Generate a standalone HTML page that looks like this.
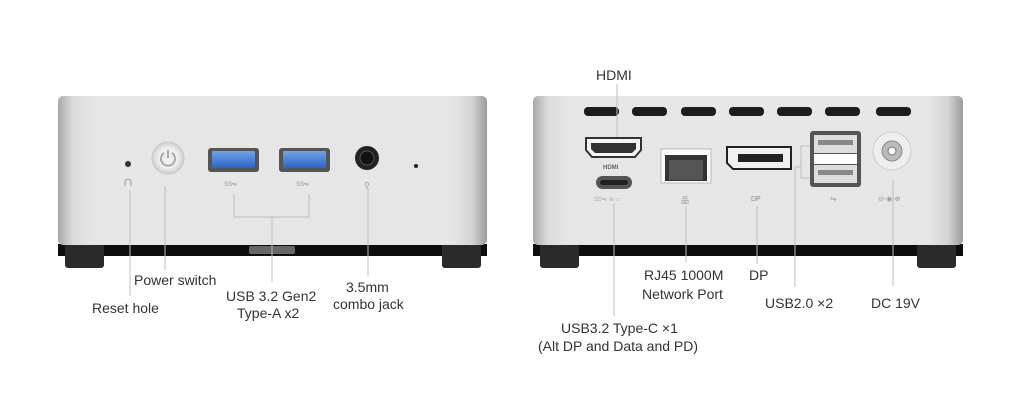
<!DOCTYPE html>
<html><head><meta charset="utf-8"><style>
html,body{margin:0;padding:0;background:#fff;}
svg{display:block}
text{font-family:"Liberation Sans",sans-serif;font-size:14px;fill:#333}
</style></head><body>
<svg width="1026" height="415" viewBox="0 0 1026 415" xmlns="http://www.w3.org/2000/svg">
<defs>
<linearGradient id="body" x1="0" x2="1" y1="0" y2="0">
<stop offset="0" stop-color="#a9a9ab"/><stop offset="0.035" stop-color="#dcdcdd"/><stop offset="0.08" stop-color="#e6e6e7"/>
<stop offset="0.92" stop-color="#e6e6e7"/><stop offset="0.965" stop-color="#d4d4d5"/><stop offset="1" stop-color="#9c9c9e"/>
</linearGradient>
<linearGradient id="usb3" x1="0" x2="0" y1="0" y2="1"><stop offset="0" stop-color="#6fa4e8"/><stop offset="1" stop-color="#2c64c4"/></linearGradient>
<radialGradient id="btn"><stop offset="0.6" stop-color="#eeeeee"/><stop offset="1" stop-color="#cfcfcf"/></radialGradient>
</defs>

<!-- LEFT DEVICE -->
<rect x="58" y="244" width="429" height="12" fill="#0d0d0d"/>
<rect x="65" y="244" width="39" height="24" rx="3" fill="#2a2a2a"/>
<rect x="442" y="244" width="39" height="24" rx="3" fill="#2a2a2a"/>
<rect x="249" y="246" width="46" height="8" rx="2" fill="#666"/>
<rect x="58" y="96" width="429" height="149" rx="5" fill="url(#body)"/>
<circle cx="128" cy="164" r="3" fill="#333"/>
<path d="M125 186 v-4 a3 3 0 0 1 6 0 v4" fill="none" stroke="#999" stroke-width="1"/>
<circle cx="168" cy="158" r="16" fill="url(#btn)" stroke="#c8c8c8"/>
<path d="M164 153 a7 7 0 1 0 8 0" fill="none" stroke="#aaa" stroke-width="2"/>
<line x1="168" y1="150" x2="168" y2="158" stroke="#aaa" stroke-width="2"/>
<rect x="208" y="148" width="51" height="24" rx="3" fill="#555"/>
<rect x="212" y="151" width="43" height="17" rx="1" fill="url(#usb3)"/>
<rect x="279" y="148" width="51" height="24" rx="3" fill="#555"/>
<rect x="283" y="151" width="43" height="17" rx="1" fill="url(#usb3)"/>
<text x="224" y="186" style="font-size:6px;fill:#999">SS⇋</text>
<text x="296" y="186" style="font-size:6px;fill:#999">SS⇋</text>
<circle cx="367" cy="158" r="12" fill="#222"/><circle cx="367" cy="158" r="7" fill="#111" stroke="#555"/>
<text x="364" y="188" style="font-size:8px;fill:#999">⚲</text>
<circle cx="416" cy="166" r="2" fill="#222"/>

<g stroke="#bdbdbd" stroke-width="1" fill="none">
<line x1="130" y1="190" x2="130" y2="296"/>
<line x1="165" y1="186" x2="165" y2="270"/>
<polyline points="234,194 234,217 309,217 309,194"/>
<line x1="272" y1="217" x2="272" y2="282"/>
<line x1="368" y1="188" x2="368" y2="276"/>
</g>

<!-- RIGHT DEVICE -->
<rect x="533" y="244" width="430" height="12" fill="#0d0d0d"/>
<rect x="540" y="244" width="39" height="24" rx="3" fill="#2a2a2a"/>
<rect x="917" y="244" width="39" height="24" rx="3" fill="#2a2a2a"/>
<rect x="533" y="96" width="430" height="149" rx="5" fill="url(#body)"/>
<g fill="#1c1c1c">
<rect x="584" y="107" width="35" height="9" rx="4"/>
<rect x="632" y="107" width="35" height="9" rx="4"/>
<rect x="681" y="107" width="35" height="9" rx="4"/>
<rect x="729" y="107" width="35" height="9" rx="4"/>
<rect x="777" y="107" width="35" height="9" rx="4"/>
<rect x="825" y="107" width="35" height="9" rx="4"/>
<rect x="876" y="107" width="35" height="9" rx="4"/>
</g>
<!-- HDMI -->
<path d="M586 138 h55 v12 l-6 7 h-43 l-6 -7 z" fill="#f4f4f4" stroke="#333" stroke-width="2"/>
<path d="M591 143 h45 v6 l-4 4 h-37 l-4 -4 z" fill="#333"/>
<text x="603" y="169" style="font-size:6px;fill:#666;font-weight:bold">HDMI</text>
<!-- USB-C -->
<rect x="596" y="176" width="36" height="13" rx="6.5" fill="#555"/>
<rect x="600" y="180" width="28" height="5" rx="2.5" fill="#222"/>
<text x="594" y="201" style="font-size:6px;fill:#aaa">SS⇋ ⊖ ▭</text>
<!-- RJ45 -->
<rect x="661" y="149" width="50" height="34" fill="#fafafa" stroke="#bbb"/>
<rect x="665" y="155" width="42" height="26" fill="#333"/>
<rect x="669" y="160" width="34" height="20" fill="#555"/>
<text x="681" y="203" style="font-size:8px;fill:#999">品</text>
<!-- DP -->
<path d="M727 147 h64 v22 h-58 l-6 -6 z" fill="#f0f0f0" stroke="#222" stroke-width="2"/>
<rect x="738" y="154" width="45" height="8" fill="#222"/>
<text x="751" y="201" style="font-size:7px;fill:#888">DP</text>
<!-- USB2 -->
<rect x="810" y="131" width="51" height="56" rx="3" fill="#555"/>
<rect x="814" y="135" width="43" height="18" fill="#ddd"/>
<rect x="814" y="154" width="43" height="10" fill="#fff"/>
<rect x="814" y="165" width="43" height="18" fill="#ddd"/>
<rect x="818" y="140" width="35" height="5" fill="#888"/>
<rect x="818" y="170" width="35" height="5" fill="#888"/>
<text x="830" y="201" style="font-size:8px;fill:#999">⇋</text>
<!-- DC -->
<circle cx="892" cy="151" r="19" fill="#eee" stroke="#ccc"/>
<circle cx="892" cy="151" r="10" fill="#bbb" stroke="#888"/>
<circle cx="892" cy="151" r="4" fill="#f5f5f5" stroke="#777"/>
<text x="878" y="201" style="font-size:7px;fill:#999">⊖-◉-⊕</text>

<g stroke="#bdbdbd" stroke-width="1" fill="none">
<line x1="617" y1="84" x2="617" y2="137"/>
<line x1="614" y1="204" x2="614" y2="316"/>
<line x1="686" y1="206" x2="686" y2="262"/>
<line x1="757" y1="206" x2="757" y2="264"/>
<polyline points="810,146 801,146 801,178 810,178"/>
<line x1="795" y1="167" x2="801" y2="167"/>
<line x1="795" y1="167" x2="795" y2="287"/>
<line x1="893" y1="180" x2="893" y2="286"/>
</g>

<!-- LABELS -->
<text x="596" y="80">HDMI</text>
<text x="134" y="285">Power switch</text>
<text x="92" y="313">Reset hole</text>
<text x="226" y="301">USB 3.2 Gen2</text>
<text x="237" y="318">Type-A x2</text>
<text x="346" y="292">3.5mm</text>
<text x="333" y="309">combo jack</text>
<text x="644" y="280">RJ45 1000M</text>
<text x="642" y="299">Network Port</text>
<text x="749" y="280">DP</text>
<text x="765" y="308">USB2.0 ×2</text>
<text x="871" y="308">DC 19V</text>
<text x="561" y="333">USB3.2 Type-C ×1</text>
<text x="538" y="351">(Alt DP and Data and PD)</text>
</svg>
</body></html>
